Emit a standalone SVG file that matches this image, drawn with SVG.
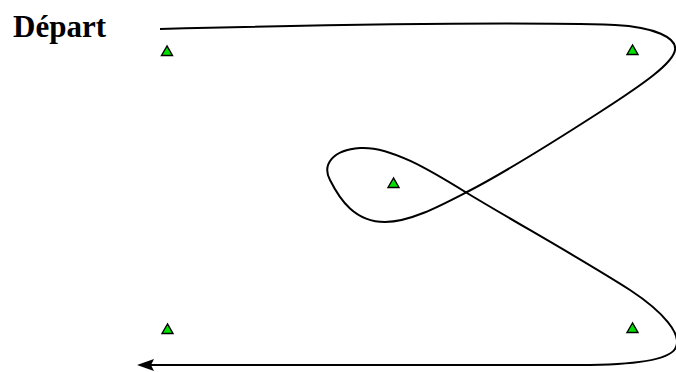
<svg xmlns="http://www.w3.org/2000/svg" width="676" height="372" viewBox="0 0 676 372">
<style>
.tri{fill:#00e000;stroke:#000;stroke-width:1.4;stroke-linejoin:miter}
.route{fill:none;stroke:#000;stroke-width:2}
.lbl{font-family:"Liberation Serif","Times New Roman",serif;font-weight:bold;font-size:31px;fill:#000}
</style>
<defs>
<marker id="arr" viewBox="0 0 17 12" refX="3" refY="6" markerWidth="17" markerHeight="12" markerUnits="userSpaceOnUse" orient="auto">
<path d="M0,0 L17,6 L0,12 L3,6 z" fill="#000"/>
</marker>
</defs>
<rect width="676" height="372" fill="#fff"/>
<g id="label-depart"><text class="lbl" x="13" y="37">Départ</text></g>
<g id="node-tl"><polygon class="tri" points="167,46 161.5,55.5 172.5,55.5"/></g>
<g id="node-tr"><polygon class="tri" points="632.5,45 627,54.5 638,54.5"/></g>
<g id="node-c"><polygon class="tri" points="393.5,178 388,187.5 399,187.5"/></g>
<g id="node-bl"><polygon class="tri" points="167.5,324 162,333.5 173,333.5"/></g>
<g id="node-br"><polygon class="tri" points="632.5,323 627,332.5 638,332.5"/></g>
<g id="connectors">
<path class="route" marker-end="url(#arr)" d="M160,29 C320,25 520,22 615,25 C655,27 677,38 675,50 C673,63 645,83 600,112 C555,141 500,175 467,192 C440,206 410,222 385,222 C355,222 340,200 330,180 C322,165 332,150 360,148 C390,146 430,170 467,193 C520,225 580,258 630,290 C662,311 684,335 675,349 C667,361 630,365 580,365 L151,365"/>
</g>
</svg>
